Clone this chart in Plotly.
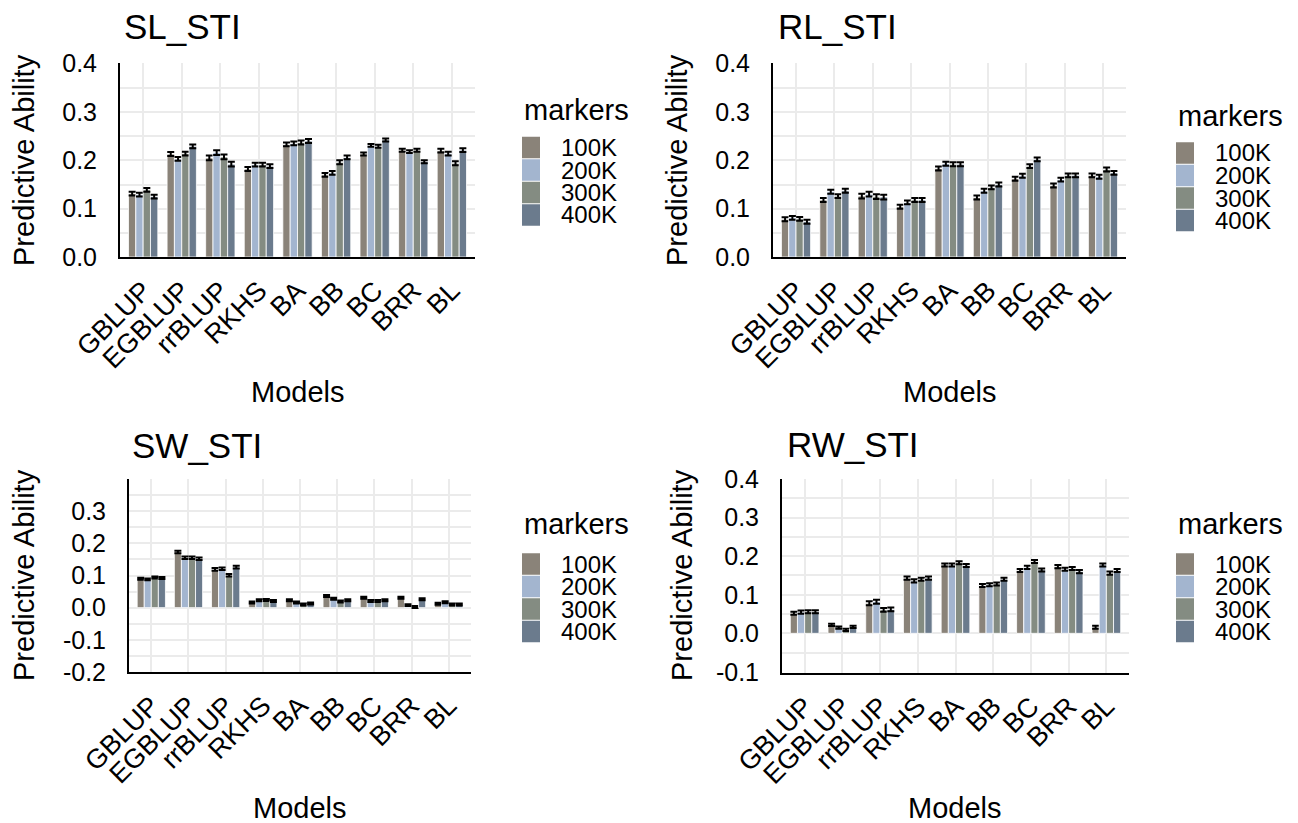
import plotly.graph_objects as go

W, H = 1298, 823

models = ["GBLUP", "EGBLUP", "rrBLUP", "RKHS", "BA", "BB", "BC", "BRR", "BL"]
marker_sets = ["100K", "200K", "300K", "400K"]
colors = ["#8a8379", "#a3b5cf", "#848c82", "#6b7b8d"]

# Panel titles
panel_titles = ["SL_STI", "RL_STI", "SW_STI", "RW_STI"]

# SL_STI predictive ability
sl_100 = [0.131, 0.213, 0.205, 0.182, 0.233, 0.170, 0.213, 0.221, 0.220]
sl_200 = [0.129, 0.203, 0.216, 0.191, 0.235, 0.174, 0.231, 0.218, 0.214]
sl_300 = [0.139, 0.214, 0.207, 0.191, 0.237, 0.196, 0.229, 0.221, 0.194]
sl_400 = [0.125, 0.229, 0.192, 0.188, 0.240, 0.206, 0.242, 0.197, 0.221]
sl_err = [0.004, 0.004, 0.005, 0.004, 0.004, 0.004, 0.003, 0.003, 0.004]

# RL_STI predictive ability
rl_100 = [0.078, 0.118, 0.126, 0.104, 0.183, 0.123, 0.162, 0.148, 0.169]
rl_200 = [0.081, 0.135, 0.130, 0.113, 0.193, 0.137, 0.168, 0.160, 0.166]
rl_300 = [0.079, 0.126, 0.125, 0.118, 0.192, 0.144, 0.188, 0.169, 0.181]
rl_400 = [0.073, 0.137, 0.124, 0.118, 0.192, 0.150, 0.202, 0.169, 0.174]
rl_err = [0.004, 0.004, 0.005, 0.004, 0.004, 0.004, 0.004, 0.004, 0.004]

# SW_STI predictive ability
sw_100 = [0.090, 0.173, 0.119, 0.016, 0.023, 0.036, 0.031, 0.031, 0.012]
sw_200 = [0.088, 0.155, 0.121, 0.023, 0.016, 0.028, 0.021, 0.008, 0.017]
sw_300 = [0.094, 0.155, 0.101, 0.024, 0.010, 0.019, 0.021, 0.002, 0.010]
sw_400 = [0.092, 0.152, 0.126, 0.021, 0.013, 0.023, 0.023, 0.026, 0.010]
sw_err = [0.003, 0.004, 0.004, 0.003, 0.003, 0.003, 0.003, 0.003, 0.003]

# RW_STI predictive ability
rw_100 = [0.052, 0.022, 0.078, 0.143, 0.177, 0.124, 0.163, 0.173, 0.016]
rw_200 = [0.055, 0.015, 0.082, 0.136, 0.177, 0.126, 0.171, 0.166, 0.177]
rw_300 = [0.056, 0.009, 0.061, 0.140, 0.183, 0.128, 0.186, 0.168, 0.156]
rw_400 = [0.056, 0.017, 0.062, 0.143, 0.176, 0.140, 0.164, 0.160, 0.163]
rw_err = [0.004, 0.003, 0.005, 0.004, 0.004, 0.004, 0.004, 0.004, 0.004]

panels = [
    [sl_100, sl_200, sl_300, sl_400],
    [rl_100, rl_200, rl_300, rl_400],
    [sw_100, sw_200, sw_300, sw_400],
    [rw_100, rw_200, rw_300, rw_400],
]
panel_errs = [sl_err, rl_err, sw_err, rw_err]

y_ranges = [[0, 0.402], [0, 0.402], [-0.2, 0.4], [-0.102, 0.4]]
y_ticks = [
    [0.0, 0.1, 0.2, 0.3, 0.4],
    [0.0, 0.1, 0.2, 0.3, 0.4],
    [-0.2, -0.1, 0.0, 0.1, 0.2, 0.3],
    [-0.1, 0.0, 0.1, 0.2, 0.3, 0.4],
]
y_minor = [
    [0.05, 0.15, 0.25, 0.35],
    [0.05, 0.15, 0.25, 0.35],
    [-0.15, -0.05, 0.05, 0.15, 0.25, 0.35, 0.4],
    [-0.05, 0.05, 0.15, 0.25, 0.35],
]

# pixel boxes of plot areas: (left, right, top, bottom)
boxes = [(120, 475, 62.7, 257), (773, 1126, 62.7, 257),
         (129, 471, 479, 672), (782, 1129, 479, 672.7)]

FONT = "Liberation Sans, Arial, sans-serif"

fig = go.Figure()
layout = dict(
    width=W, height=H, margin=dict(l=0, r=0, t=0, b=0, autoexpand=False),
    paper_bgcolor="white", plot_bgcolor="white",
    barmode="group", bargap=0.24, bargroupgap=0.0,
    showlegend=False,
    font=dict(family=FONT, color="black"),
)

for i, (series, err) in enumerate(zip(panels, panel_errs)):
    k = "" if i == 0 else str(i + 1)
    for j, vals in enumerate(series):
        fig.add_trace(go.Bar(
            x=models, y=vals, name=marker_sets[j],
            marker=dict(color=colors[j], line=dict(color="white", width=0.8)),
            error_y=dict(type="data", array=err, color="black", thickness=2, width=3.5),
            xaxis="x" + k, yaxis="y" + k, offsetgroup=str(j),
        ))
    l, r, t, b = boxes[i]
    layout["xaxis" + k] = dict(
        domain=[l / W, r / W], anchor="y" + k, automargin=False,
        range=[-0.6, 8.6], showline=True, linecolor="black", linewidth=2,
        showgrid=True, gridcolor="#ebebeb", gridwidth=2, ticks="",
        tickangle=-45, tickfont=dict(size=27, family=FONT, color="black"),
        zeroline=False, fixedrange=True, ticklabelstandoff=5,
    )
    layout["yaxis" + k] = dict(
        domain=[1 - b / H, 1 - t / H], anchor="x" + k, automargin=False,
        range=y_ranges[i], tickvals=y_ticks[i],
        ticktext=["%.1f" % v for v in y_ticks[i]],
        showline=True, linecolor="black", linewidth=2,
        showgrid=True, gridcolor="#ebebeb", gridwidth=2, ticks="",
        minor=dict(tickvals=y_minor[i], showgrid=True, gridcolor="#ebebeb", gridwidth=1.5),
        tickfont=dict(size=25, family=FONT, color="black"),
        zeroline=False, ticklabelstandoff=16, fixedrange=True,
    )

annotations = []
# panel titles
title_pos = [(122, 27), (776, 27), (130, 445), (785, 444)]
for (px, py), txt in zip(title_pos, panel_titles):
    annotations.append(dict(text=txt, x=px / W, y=1 - py / H, xref="paper", yref="paper",
                            xanchor="left", yanchor="middle", showarrow=False,
                            font=dict(size=35, family=FONT, color="black")))
# y axis titles
ytitle_pos = [(24, 160), (677, 160), (24, 575), (682, 575)]
for px, py in ytitle_pos:
    annotations.append(dict(text="Predictive Ability", x=px / W, y=1 - py / H,
                            xref="paper", yref="paper", xanchor="center", yanchor="middle",
                            textangle=-90, showarrow=False,
                            font=dict(size=29, family=FONT, color="black")))
# x axis titles
xtitle_pos = [(298, 392), (950, 392), (300, 808), (955, 808)]
for px, py in xtitle_pos:
    annotations.append(dict(text="Models", x=px / W, y=1 - py / H,
                            xref="paper", yref="paper", xanchor="center", yanchor="middle",
                            showarrow=False, font=dict(size=29, family=FONT, color="black")))

# legends (one per panel)
legend_pos = [(522, 110, 147.5), (1176, 116, 153), (522, 524, 564), (1176, 524, 564)]
row_h = 22.5
shapes = []
for lx, ty, ry in legend_pos:
    annotations.append(dict(text="markers", x=lx / W, y=1 - ty / H, xref="paper", yref="paper",
                            xanchor="left", yanchor="middle", showarrow=False,
                            font=dict(size=29, family=FONT, color="black")))
    for j, lab in enumerate(marker_sets):
        cy = ry + j * row_h
        shapes.append(dict(type="rect", xref="paper", yref="paper",
                           x0=lx / W, x1=(lx + 18) / W,
                           y0=1 - (cy + row_h / 2 - 0.5) / H, y1=1 - (cy - row_h / 2 + 0.5) / H,
                           fillcolor=colors[j], line=dict(width=0)))
        annotations.append(dict(text=lab, x=(lx + 37) / W, y=1 - cy / H, xref="paper", yref="paper",
                                xanchor="left", yanchor="middle", showarrow=False,
                                font=dict(size=24, family=FONT, color="black")))

layout["annotations"] = annotations
layout["shapes"] = shapes
fig.update_layout(**layout)
fig.write_html("out.html")
